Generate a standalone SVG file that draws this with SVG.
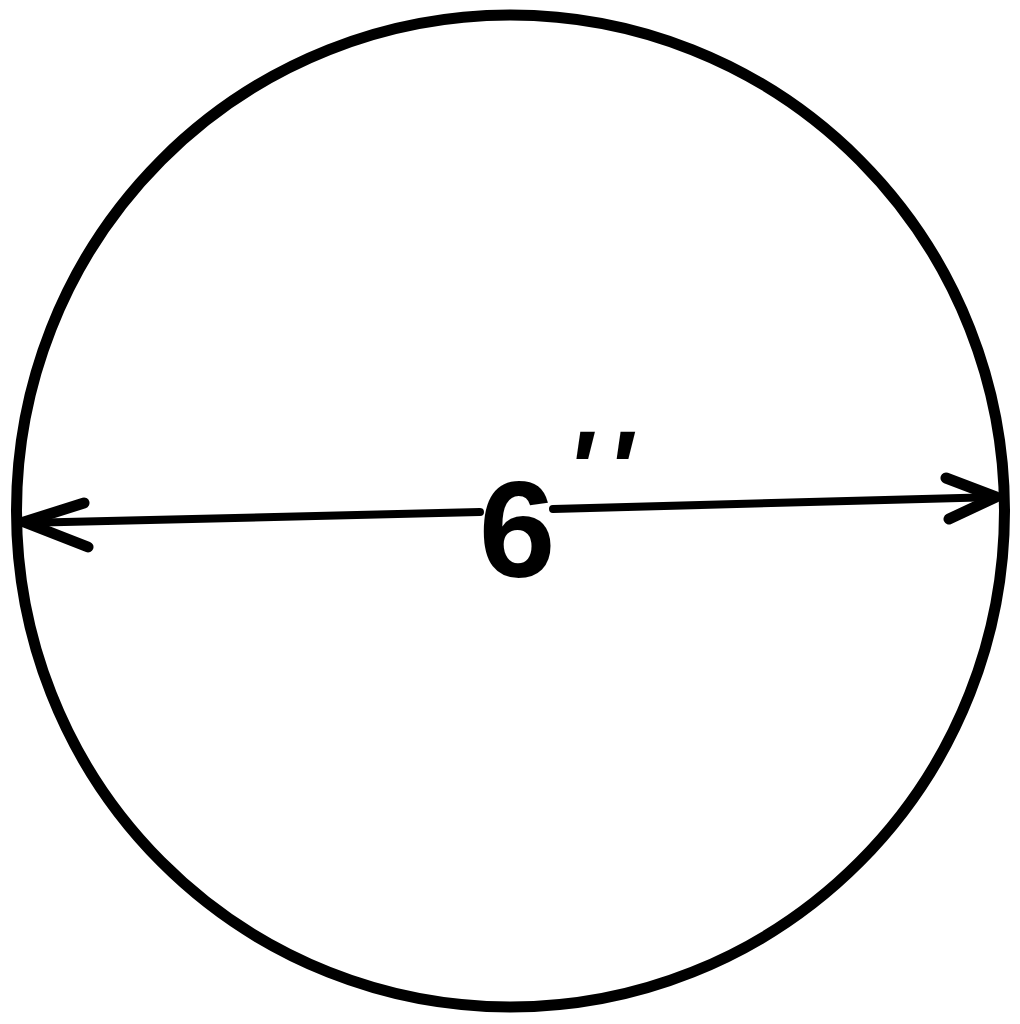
<svg xmlns="http://www.w3.org/2000/svg" width="1020" height="1024" viewBox="0 0 1020 1024">
  <style>
    .outline { fill: none; stroke: #000; stroke-width: 11; }
    .dim { fill: none; stroke: #000; stroke-width: 8; stroke-linecap: round; stroke-linejoin: round; }
    .head { fill: none; stroke: #000; stroke-width: 11; stroke-linecap: round; stroke-linejoin: round; }
    .label { font-family: "Liberation Sans", Arial, sans-serif; font-weight: bold; fill: #000; }
  </style>
  <rect width="1020" height="1024" fill="#fff"/>
  <g id="circle">
    <ellipse class="outline" cx="510.5" cy="511" rx="494" ry="496"/>
  </g>
  <g id="connectors">
    <polyline class="dim" points="22,523 480,512"/>
    <polyline class="dim" points="553,509 998,497"/>
    <polyline class="head" points="84,503 24,522 88,547"/>
    <polyline class="head" points="946,478 996,497 949,519"/>
  </g>
  <g id="label">
    <text class="label" x="517" y="577" font-size="138" text-anchor="middle">6</text>
    <text class="label" x="606" y="507" font-size="110" font-style="italic" text-anchor="middle" letter-spacing="14">''</text>
  </g>
</svg>
